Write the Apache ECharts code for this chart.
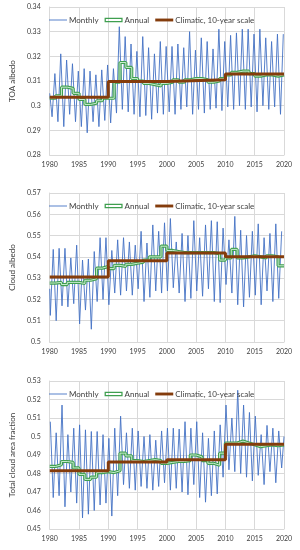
<!DOCTYPE html>
<html><head><meta charset="utf-8">
<script src="https://cdn.jsdelivr.net/npm/echarts@6/dist/echarts.min.js"></script>
<style>html,body{margin:0;padding:0;background:#fff}#c{width:300px;height:550px}</style>
</head><body><div id="c"></div>
<script>
// ---------- DATA ----------
const years = [1980,1981,1982,1983,1984,1985,1986,1987,1988,1989,
               1990,1991,1992,1993,1994,1995,1996,1997,1998,1999,
               2000,2001,2002,2003,2004,2005,2006,2007,2008,2009,
               2010,2011,2012,2013,2014,2015,2016,2017,2018,2019];
const decades = [1980,1990,2000,2010];
const xTicks = ['1980','1985','1990','1995','2000','2005','2010','2015','2020'];

// TOA albedo: monthly seasonal maxima / minima per year
const toaMonthlyStart = 0.305;
const toaMonthlyLow = [0.2955,0.2935,0.2915,0.2965,0.2935,0.2915,0.289,0.2935,0.2915,0.294,
  0.293,0.297,0.2985,0.2975,0.2965,0.2955,0.296,0.2945,0.297,0.2965,
  0.2975,0.2965,0.2985,0.2995,0.2965,0.2985,0.297,0.2985,0.299,0.298,
  0.2995,0.2985,0.300,0.2985,0.2995,0.2975,0.300,0.2985,0.2995,0.2965];
const toaMonthlyHigh = [0.313,0.321,0.3185,0.317,0.314,0.315,0.314,0.3125,0.3145,0.3165,
  0.315,0.332,0.328,0.325,0.322,0.328,0.3235,0.321,0.326,0.324,
  0.324,0.325,0.3235,0.330,0.3225,0.3275,0.326,0.323,0.331,0.326,
  0.3285,0.3295,0.331,0.331,0.329,0.331,0.3275,0.326,0.329,0.329];
const toaAnnual = [0.303,0.304,0.3075,0.307,0.305,0.3025,0.3005,0.301,0.302,0.303,
  0.303,0.3095,0.3175,0.3155,0.311,0.310,0.309,0.3085,0.308,0.309,
  0.3095,0.3105,0.3095,0.3105,0.311,0.311,0.3105,0.3095,0.310,0.311,
  0.3125,0.3135,0.314,0.314,0.313,0.312,0.3125,0.3125,0.312,0.3125];
const toaClimatic = [0.3034,0.3098,0.3105,0.3128];

// Cloud albedo
const cldMonthlyStart = 0.525;
const cldMonthlyLow = [0.5125,0.510,0.517,0.5165,0.518,0.5085,0.515,0.506,0.519,0.520,
  0.5175,0.523,0.522,0.524,0.522,0.525,0.519,0.521,0.524,0.523,
  0.524,0.5255,0.523,0.519,0.5205,0.524,0.5215,0.525,0.519,0.5185,
  0.527,0.523,0.5175,0.5165,0.521,0.522,0.5175,0.524,0.519,0.5205];
const cldMonthlyHigh = [0.5435,0.544,0.544,0.5395,0.5455,0.5385,0.539,0.5425,0.549,0.549,
  0.543,0.548,0.549,0.547,0.5455,0.552,0.5465,0.555,0.552,0.556,
  0.558,0.547,0.551,0.550,0.557,0.549,0.555,0.557,0.5565,0.5535,
  0.548,0.559,0.5525,0.550,0.552,0.5555,0.549,0.551,0.5555,0.552];
const cldAnnual = [0.5277,0.528,0.527,0.528,0.528,0.5275,0.529,0.5297,0.5347,0.5355,
  0.5345,0.536,0.5355,0.5365,0.537,0.5375,0.5385,0.540,0.540,0.545,
  0.543,0.5425,0.542,0.542,0.542,0.542,0.542,0.542,0.5415,0.5385,
  0.5395,0.5435,0.5395,0.540,0.5405,0.540,0.5395,0.5405,0.540,0.5358];
const cldClimatic = [0.5305,0.5382,0.5418,0.540];

// Total cloud area fraction
const cfMonthlyEnd = 0.500;
const cfMonthlyHigh = [0.508,0.502,0.517,0.501,0.5045,0.5063,0.5036,0.5027,0.5027,0.501,
  0.499,0.5045,0.511,0.502,0.5045,0.503,0.500,0.501,0.498,0.503,
  0.5045,0.5045,0.504,0.508,0.5045,0.508,0.502,0.499,0.503,0.5063,
  0.517,0.510,0.525,0.517,0.513,0.511,0.501,0.506,0.5045,0.503];
const cfMonthlyLow = [0.467,0.468,0.462,0.470,0.464,0.456,0.458,0.460,0.463,0.464,
  0.457,0.468,0.474,0.472,0.471,0.473,0.472,0.471,0.473,0.475,
  0.471,0.472,0.470,0.4685,0.474,0.467,0.4645,0.468,0.469,0.478,
  0.482,0.481,0.480,0.478,0.476,0.479,0.474,0.481,0.475,0.483];
const cfAnnual = [0.4838,0.4847,0.4865,0.486,0.483,0.4795,0.4768,0.478,0.4805,0.481,
  0.4805,0.4815,0.491,0.4895,0.487,0.4865,0.487,0.4875,0.487,0.4855,
  0.486,0.4865,0.4865,0.487,0.490,0.489,0.487,0.4855,0.4845,0.491,
  0.4965,0.4965,0.4975,0.4965,0.4955,0.4945,0.495,0.4955,0.495,0.4955];
const cfClimatic = [0.4815,0.4862,0.4874,0.4958];

// ---------- BUILD ----------
const END = 2020;
function monthly(start, first, firstOff, second, secondOff, end) {
  const d = [];
  if (start != null) d.push([years[0], start]);
  years.forEach((y, i) => { d.push([y + firstOff, first[i]]); d.push([y + secondOff, second[i]]); });
  if (end != null) d.push([END, end]);
  return d;
}
function annualSteps(a) { const d = years.map((y, i) => [y, a[i]]); d.push([END, a[a.length - 1]]); return d; }
function climSteps(c) { const d = decades.map((y, i) => [y, c[i]]); d.push([END, c[c.length - 1]]); return d; }

const panels = [
  {name: 'TOA albedo', min: 0.28, max: 0.34, top: 7, h: 148,
   m: monthly(toaMonthlyStart, toaMonthlyLow, 0.4, toaMonthlyHigh, 0.88, null), a: toaAnnual, c: toaClimatic},
  {name: 'Cloud albedo', min: 0.50, max: 0.57, top: 193, h: 149,
   m: monthly(cldMonthlyStart, cldMonthlyLow, 0.1, cldMonthlyHigh, 0.6, null), a: cldAnnual, c: cldClimatic},
  {name: 'Total cloud area fraction', min: 0.45, max: 0.53, top: 381, h: 148,
   m: monthly(null, cfMonthlyHigh, 0.1, cfMonthlyLow, 0.6, cfMonthlyEnd), a: cfAnnual, c: cfClimatic}
];

const FONT = 'Lato';
const BLUE = '#4472C4', GREEN = '#3f9f4f', GREEN_IN = '#c9ecd0', BROWN = '#843C0C', GRID = '#d9d9d9';
const annualIcon = 'path://M0,0L20,0L20,5L0,5Z M1.4,1.4L1.4,3.6L18.6,3.6L18.6,1.4Z';

const option = {
  animation: false,
  backgroundColor: '#fff',
  grid: [], xAxis: [], yAxis: [], series: [], legend: []
};
panels.forEach((p, k) => {
  option.grid.push({left: 37.5, right: 16, top: p.top, height: p.h});
  option.xAxis.push({
    type: 'value', gridIndex: k, min: 1980, max: 2020, interval: 5,
    axisLine: {lineStyle: {color: GRID}}, axisTick: {show: false},
    splitLine: {show: true, lineStyle: {color: GRID, width: 1}},
    axisLabel: {fontFamily: FONT, fontSize: 7, color: '#404040', margin: 6, formatter: v => String(v)}
  });
  option.yAxis.push({
    type: 'value', gridIndex: k, min: p.min, max: p.max, interval: 0.01,
    name: p.name, nameLocation: 'middle', nameGap: 23,
    nameTextStyle: {fontFamily: FONT, fontSize: 8, color: '#404040'},
    axisLine: {show: true, lineStyle: {color: GRID}}, axisTick: {show: false},
    splitLine: {show: true, lineStyle: {color: GRID, width: 1}},
    axisLabel: {fontFamily: FONT, fontSize: 7, color: '#404040', margin: 9,
      formatter: v => String(parseFloat(v.toFixed(3)))}
  });
  option.legend.push({
    top: p.top + 4, left: 44, itemGap: 6, itemWidth: 18, itemHeight: 8,
    textStyle: {fontFamily: FONT, fontSize: 8, color: '#404040', padding: [0, 0, 0, -3]},
    data: [
      {name: 'Monthly' + k, icon: 'path://M0,0L20,0L20,1L0,1Z', itemStyle: {color: BLUE}},
      {name: 'Annual' + k, icon: annualIcon, itemStyle: {color: GREEN}},
      {name: 'Climatic' + k, icon: 'path://M0,0L20,0L20,3.2L0,3.2Z', itemStyle: {color: BROWN}}
    ],
    formatter: n => n.replace(/\d$/, '').replace('Climatic', 'Climatic, 10-year scale')
  });
  option.series.push(
    {name: 'Monthly' + k, type: 'line', xAxisIndex: k, yAxisIndex: k, data: p.m,
     symbol: 'none', lineStyle: {color: BLUE, width: 0.9}, itemStyle: {color: BLUE}, z: 2},
    {name: 'Annual' + k, type: 'line', xAxisIndex: k, yAxisIndex: k, data: annualSteps(p.a), step: 'end',
     symbol: 'none', lineStyle: {color: GREEN, width: 3.2}, itemStyle: {color: GREEN}, z: 3},
    {name: 'AnnualInner' + k, type: 'line', xAxisIndex: k, yAxisIndex: k, data: annualSteps(p.a), step: 'end',
     symbol: 'none', lineStyle: {color: GREEN_IN, width: 1}, z: 4},
    {name: 'Climatic' + k, type: 'line', xAxisIndex: k, yAxisIndex: k, data: climSteps(p.c), step: 'end',
     symbol: 'none', lineStyle: {color: BROWN, width: 3}, itemStyle: {color: BROWN}, z: 5}
  );
});
const chart = echarts.init(document.getElementById('c'), null, {renderer: 'canvas'});
chart.setOption(option);
</script></body></html>
